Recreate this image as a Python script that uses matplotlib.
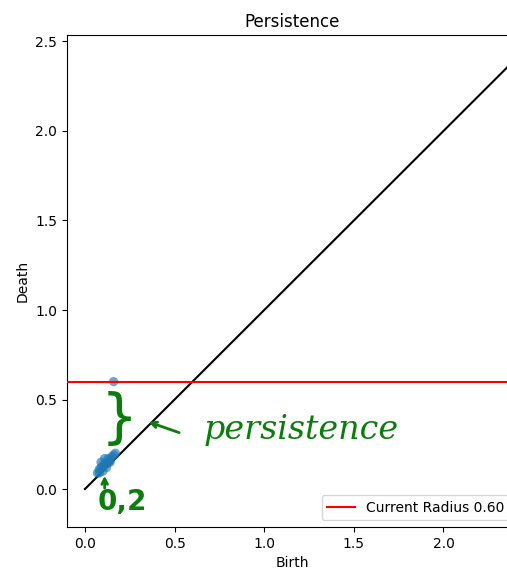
import numpy as np
import matplotlib
matplotlib.use('Agg')
import matplotlib.pyplot as plt

DPI = 100
RADIUS = 0.60

# persistence pairs (birth, death)
births = [0.07, 0.08, 0.09, 0.10, 0.09, 0.11, 0.12, 0.13, 0.14, 0.15,
          0.16, 0.17, 0.10, 0.12, 0.14, 0.11, 0.13, 0.08, 0.16]
deaths = [0.09, 0.11, 0.12, 0.13, 0.15, 0.17, 0.14, 0.17, 0.16, 0.18,
          0.19, 0.20, 0.10, 0.12, 0.15, 0.14, 0.15, 0.09, 0.60]

x_lim = [-0.10, 2.41]
y_lim = [-0.212, 2.536]

fig = plt.figure(figsize=[5.07, 5.75], dpi=DPI)
ax = fig.add_axes([67/507, 48/575, (517-67)/507, (527-35)/575])

ax.plot([0, x_lim[1]], [0, x_lim[1]], color='black', lw=1.5, zorder=1)
ax.scatter(births, deaths, s=45, color='#1f77b4', alpha=0.65, zorder=2,
           edgecolors='none')
ax.axhline(RADIUS, color='red', lw=1.5, label=f'Current Radius {RADIUS:.2f}', zorder=3)

ax.set_xlim(x_lim)
ax.set_ylim(y_lim)
ax.set_xticks([0.0, 0.5, 1.0, 1.5, 2.0])
ax.set_yticks([0.0, 0.5, 1.0, 1.5, 2.0, 2.5])
ax.set_title('Persistence')
ax.set_xlabel('Birth')
ax.set_ylabel('Death')
ax.legend(loc='lower right')

# notas a mao (verde)
verde = '#0a7d0a'
ax.text(0.19, 0.39, '}', color=verde, fontsize=42, ha='center', va='center',
        clip_on=False)
ax.annotate('', xy=(0.34, 0.38), xytext=(0.54, 0.31),
            arrowprops=dict(arrowstyle='->', color=verde, lw=2))
ax.text(0.66, 0.33, 'persistence', color=verde, fontsize=24, style='italic',
        ha='left', va='center', family='DejaVu Serif')
ax.annotate('', xy=(0.11, 0.09), xytext=(0.11, -0.01),
            arrowprops=dict(arrowstyle='->', color=verde, lw=2))
ax.text(0.21, -0.07, '0,2', color=verde, fontsize=20, ha='center',
        va='center', weight='bold', clip_on=False)

fig.savefig('out.png', dpi=DPI)
